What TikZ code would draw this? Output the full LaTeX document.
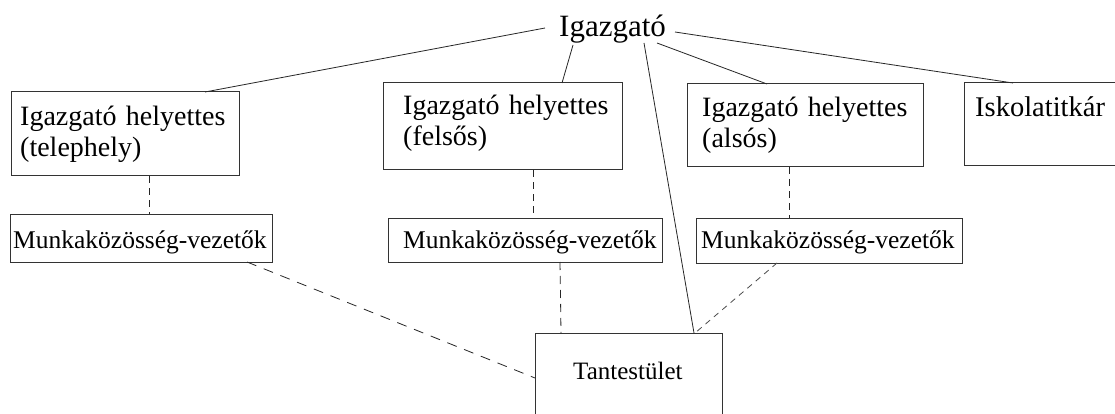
\documentclass[tikz,border=0pt]{standalone}
\usepackage{fontspec}
\setmainfont{Liberation Serif}
\begin{document}
\begin{tikzpicture}[x=1pt,y=-1pt,
  boxnode/.style={draw=black!80, line width=1pt, inner sep=0pt, outer sep=0pt, anchor=north west},
  txt/.style={anchor=base west, inner sep=0pt, text width=400pt, align=left, font=\fontsize{28}{30.5}\selectfont},
  mtxt/.style={txt, font=\fontsize{25.5}{29}\selectfont},
  conn/.style={draw=black!85, line width=0.8pt},
  dashv/.style={conn, dash pattern=on 7pt off 5pt},
  dashd/.style={conn, dash pattern=on 10pt off 8pt}]
\useasboundingbox (0,0) rectangle (1115,414);
\fill[white] (0,0) rectangle (1115,414);

% boxes
\node[boxnode, minimum width=228pt, minimum height=84pt] (b1) at (11,92) {};
\node[boxnode, minimum width=239pt, minimum height=87pt] (b2) at (383,83) {};
\node[boxnode, minimum width=236pt, minimum height=83pt] (b3) at (687,84) {};
\node[boxnode, minimum width=170pt, minimum height=83pt] (b4) at (964,83) {};
\node[boxnode, minimum width=262pt, minimum height=48pt] (m1) at (10,214) {};
\node[boxnode, minimum width=274pt, minimum height=44pt] (m2) at (388,218) {};
\node[boxnode, minimum width=266pt, minimum height=45pt] (m3) at (696,218) {};
\node[boxnode, minimum width=187pt, minimum height=110pt] (t) at (535,333) {};

% texts
\node[anchor=base west, inner sep=0pt, font=\fontsize{31}{35}\selectfont] (ig) at (559,37) {Igazgató};
\node[txt] (b1t) at (20,126) {Igazgató helyettes\\(telephely)};
\node[txt] (b2t) at (403,115) {Igazgató helyettes\\(felsős)};
\node[txt] (b3t) at (702,117) {Igazgató helyettes\\(alsós)};
\node[txt, font=\fontsize{28.5}{31}\selectfont] (b4t) at (975,117) {Iskolatitkár};
\node[mtxt] (m1t) at (13,248) {Munkaközösség-vezetők};
\node[mtxt] (m2t) at (403,248) {Munkaközösség-vezetők};
\node[mtxt] (m3t) at (701,248) {Munkaközösség-vezetők};
\node[txt, font=\fontsize{25}{29}\selectfont] (tt) at (573,379) {Tantestület};

% solid connectors from Igazgató
\draw[conn] ([shift={(-14,-9)}]ig.base west) -- ([xshift=194pt]b1.north west);
\draw[conn] ([shift={(14,8)}]ig.base west) -- ([xshift=179pt]b2.north west);
\draw[conn] ([shift={(98,6)}]ig.base west) -- ([xshift=80pt]b3.north west);
\draw[conn] ([shift={(116,-5)}]ig.base west) -- ([xshift=49pt]b4.north west);
\draw[conn] ([shift={(85,6)}]ig.base west) -- ([xshift=159pt]t.north west);

% dashed connectors
\draw[dashv] ([xshift=138pt]b1.south west) -- ([xshift=139pt]m1.north west);
\draw[dashv] ([xshift=150pt]b2.south west) -- ([xshift=145pt]m2.north west);
\draw[dashv] ([xshift=102pt]b3.south west) -- ([xshift=93pt]m3.north west);
\draw[dashd] ([xshift=237pt]m1.south west) -- ([shift={(0,45)}]t.north west);
\draw[conn, dash pattern=on 8pt off 6pt] ([xshift=172pt]m2.south west) -- ([xshift=26pt]t.north west);
\draw[conn, draw=black!70, dash pattern=on 6pt off 5pt] ([xshift=81pt]m3.south west) -- ([xshift=160pt]t.north west);
\end{tikzpicture}
\end{document}
